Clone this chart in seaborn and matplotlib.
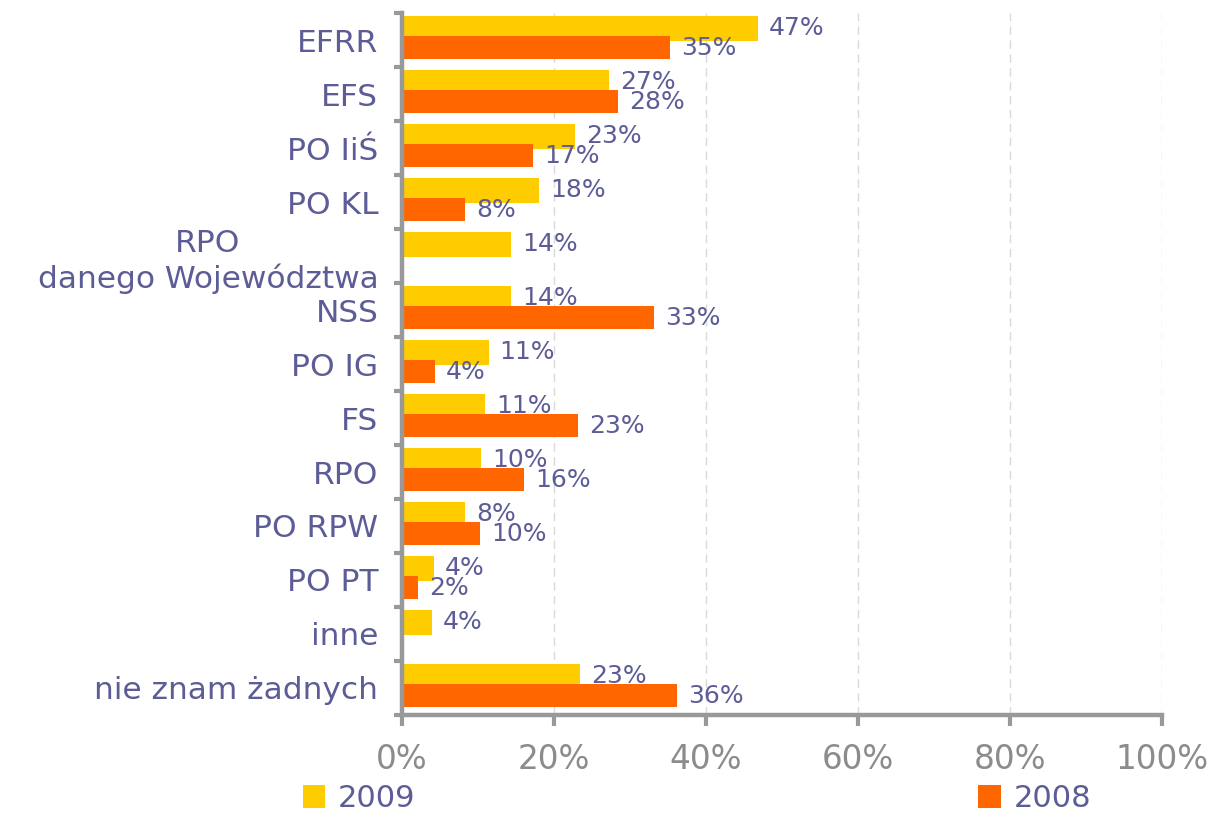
import matplotlib
matplotlib.use("Agg")
import matplotlib.pyplot as plt
from matplotlib.patches import Patch
from matplotlib.ticker import FixedLocator
import seaborn as sns
import pandas as pd
import numpy as np

# dane
kategorie = ["EFRR", "EFS", "PO IiŚ", "PO KL", "RPO\ndanego Województwa", "NSS",
             "PO IG", "FS", "RPO", "PO RPW", "PO PT", "inne", "nie znam żadnych"]
wart_2009 = [46.8, 27.2, 22.8, 18.0, 14.3, 14.3, 11.4, 10.9, 10.4, 8.3, 4.2, 3.9, 23.4]
wart_2008 = [35.3, 28.4, 17.2, 8.3, np.nan, 33.2, 4.3, 23.2, 16.1, 10.3, 2.1, np.nan, 36.2]
lata = ["2009", "2008"]
kolory = {"2009": "#FFCC00", "2008": "#FF6600"}
x_ticks = [0, 20, 40, 60, 80, 100]

txt_col = "#5C5C96"
gray = "#999999"

df = pd.DataFrame({
    "kategoria": kategorie * 2,
    "rok": ["2009"] * len(kategorie) + ["2008"] * len(kategorie),
    "wartosc": wart_2009 + wart_2008,
}).dropna()

sns.set_style("white")
plt.rcParams["font.family"] = ["DejaVu Sans"]

fig = plt.figure(figsize=(12.17, 8.16), dpi=100)
ax = fig.add_axes([0.3303, 0.1238, 0.6245, 0.8602])

sns.barplot(data=df, y="kategoria", x="wartosc", hue="rok", order=kategorie,
            hue_order=lata, palette=kolory, orient="h", width=0.76, dodge=True,
            saturation=1, legend=False, ax=ax)

# bary lekko na siebie nachodzą jak w oryginale
offsets = {0: (-0.22, 0.46), 1: (0.14, 0.44)}
for k, cont in enumerate(ax.containers):
    off, h = offsets[k]
    for p in cont:
        c = p.get_y() + p.get_height() / 2
        i = round(c)
        p.set_y(i + off - h / 2)
        p.set_height(h)
        p.set_edgecolor("none")

for cont in ax.containers:
    ax.bar_label(cont, fmt="{:.0f}%", padding=8, color=txt_col, fontsize=18)

ax.set_xlim(0, 100)
ax.set_ylim(len(kategorie) - 0.5, -0.5)
ax.xaxis.set_major_locator(FixedLocator(x_ticks))
ax.set_xticklabels([f"{t}%" for t in x_ticks])
ax.set_xlabel("")
ax.set_ylabel("")

ax.grid(axis="x", color="#D9D9D9", linestyle=(0, (6, 4)), linewidth=1)
ax.set_axisbelow(True)

for s in ["top", "right"]:
    ax.spines[s].set_visible(False)
for s in ["left", "bottom"]:
    ax.spines[s].set_color(gray)
    ax.spines[s].set_linewidth(3.2)

ax.set_yticks(range(len(kategorie)))
ax.set_yticklabels(kategorie, multialignment="center")
ax.yaxis.set_minor_locator(FixedLocator(np.arange(-0.5, len(kategorie) - 0.4, 1)))
ax.tick_params(axis="y", which="major", left=True, length=0, pad=17, labelsize=22.5,
               labelcolor=txt_col)
ax.tick_params(axis="y", which="minor", left=True, length=6, width=3, color=gray,
               direction="out")
ax.tick_params(axis="x", which="major", bottom=True, length=8, width=3, color=gray,
               direction="out", pad=12, labelsize=23.5, labelcolor="#8C8C8C")

handles = [Patch(facecolor=kolory[r], edgecolor="none") for r in lata]
fig.legend(handles, lata, loc="lower left", bbox_to_anchor=(0.226, -0.03, 0.693, 0.05),
           mode="expand", ncol=2, frameon=False, fontsize=22, labelcolor=txt_col,
           handlelength=0.75, handleheight=0.75, handletextpad=0.4)

fig.savefig("out.png", dpi=100)
